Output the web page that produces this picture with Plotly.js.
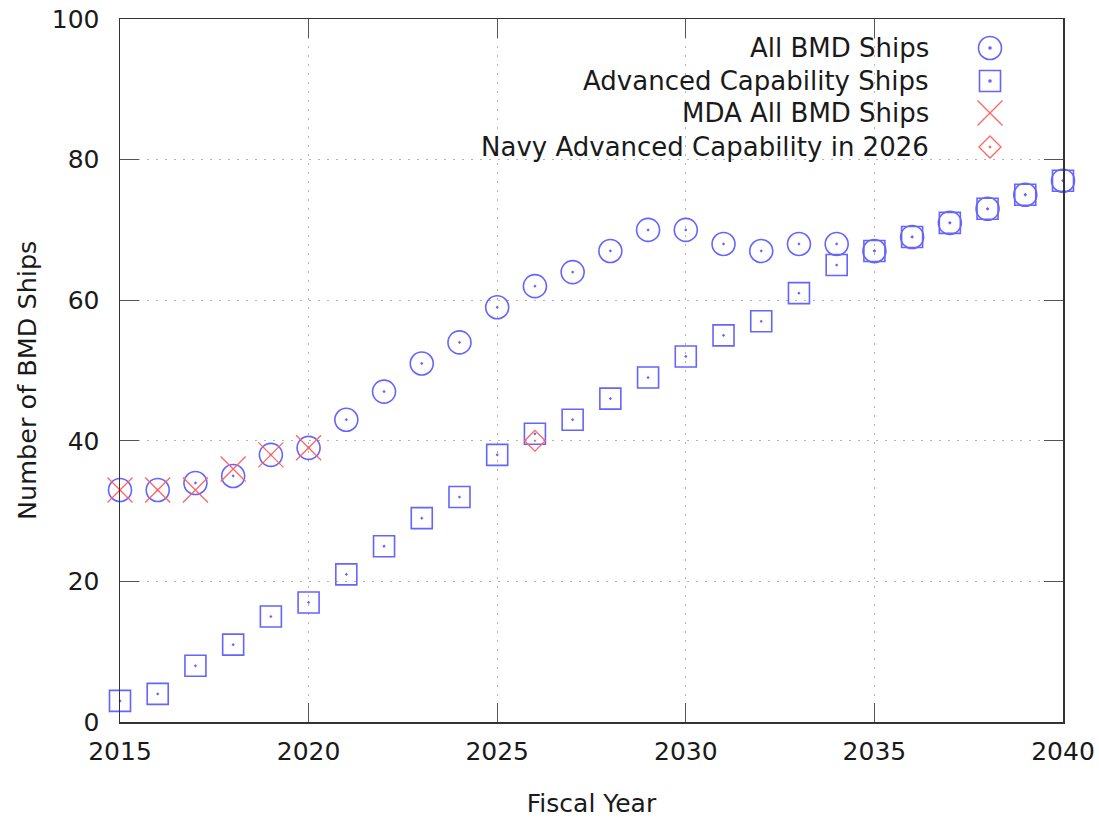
<!DOCTYPE html>
<html>
<head>
<meta charset="utf-8">
<script src="https://cdn.plot.ly/plotly-3.0.1.min.js"></script>
<style>html,body{margin:0;padding:0;background:#fff;}#chart{width:1099px;height:818px;}</style>
</head>
<body>
<div id="chart"></div>
<script>
// ---- data ----
var years = [2015,2016,2017,2018,2019,2020,2021,2022,2023,2024,2025,2026,2027,2028,2029,2030,2031,2032,2033,2034,2035,2036,2037,2038,2039,2040];
var allBMD = [33,33,34,35,38,39,43,47,51,54,59,62,64,67,70,70,68,67,68,68,67,69,71,73,75,77];
var advanced = [3,4,8,11,15,17,21,25,29,32,38,41,43,46,49,52,55,57,61,65,67,69,71,73,75,77];
var mdaYears = [2015,2016,2017,2018,2019,2020];
var mdaAll = [33,33,33,36,38,39];
var navyYears = [2026];
var navyAdv = [40];
var seriesNames = ["All BMD Ships","Advanced Capability Ships","MDA All BMD Ships","Navy Advanced Capability in 2026"];
var xTicks = [2015,2020,2025,2030,2035,2040];
var yTicks = [0,20,40,60,80,100];

var BLUE = '#6464ff', RED = '#ff6464';
var FONT = 'DejaVu Sans';

var traces = [
  {x: years, y: allBMD, name: seriesNames[0], mode: 'markers', cliponaxis: false,
   marker: {symbol: 'circle-open-dot', size: 23, color: BLUE, line: {color: BLUE, width: 1.6}}},
  {x: years, y: advanced, name: seriesNames[1], mode: 'markers', cliponaxis: false,
   marker: {symbol: 'square-open-dot', size: 21, color: BLUE, line: {color: BLUE, width: 1.6}}},
  {x: mdaYears, y: mdaAll, name: seriesNames[2], mode: 'markers', cliponaxis: false,
   marker: {symbol: 'x-thin-open', size: 25, color: RED, line: {color: RED, width: 1.3}}},
  {x: navyYears, y: navyAdv, name: seriesNames[3], mode: 'markers', cliponaxis: false,
   marker: {symbol: 'diamond-open-dot', size: 16, color: RED, line: {color: RED, width: 1.3}}}
];

// legend (gnuplot style: text right-aligned, key on the right)
var L = 120, T = 19, W = 943, H = 703;
function px(x){ return (x - L) / W; }
function py(y){ return (T + H - y) / H; }
var rowY = [48, 81, 113, 147];
var keyX = 990, textX = 931;
var annotations = seriesNames.map(function(n, i){
  return {text: n, xref: 'paper', yref: 'paper', x: px(textX), y: py(rowY[i]),
          xanchor: 'right', yanchor: 'middle', showarrow: false,
          font: {family: FONT, size: 26, color: '#1a1a1a'}};
});
annotations.push({text: 'Number of BMD Ships', xref: 'paper', yref: 'paper', x: px(27), y: py(381),
  xanchor: 'center', yanchor: 'middle', textangle: -90, showarrow: false,
  font: {family: FONT, size: 25.5, color: '#1a1a1a'}});
function pshape(type, cx, cy, x0, y0, x1, y1, color, extra){
  var s = {type: type, xref: 'paper', yref: 'paper', xsizemode: 'pixel', ysizemode: 'pixel',
           xanchor: px(cx), yanchor: py(cy), x0: x0, x1: x1, y0: y0, y1: y1,
           line: {color: color, width: 1.6}, layer: 'above'};
  for (var k in extra) s[k] = extra[k];
  return s;
}
var shapes = [
  {type: 'rect', xref: 'paper', yref: 'paper', x0: px(385), x1: px(1045), y0: py(166), y1: py(37),
   fillcolor: '#ffffff', line: {width: 0}, layer: 'between'},
  pshape('circle', keyX, rowY[0], -11.5, -11.5, 11.5, 11.5, BLUE),
  pshape('circle', keyX, rowY[0], -1, -1, 1, 1, BLUE, {fillcolor: BLUE}),
  pshape('rect', keyX, rowY[1], -10.5, -10.5, 10.5, 10.5, BLUE),
  pshape('circle', keyX, rowY[1], -1, -1, 1, 1, BLUE, {fillcolor: BLUE}),
  pshape('line', keyX, rowY[2], -12.5, -12.5, 12.5, 12.5, RED, {line: {color: RED, width: 1.3}}),
  pshape('line', keyX, rowY[2], -12.5, 12.5, 12.5, -12.5, RED, {line: {color: RED, width: 1.3}}),
  pshape('path', keyX, rowY[3], 0, 0, 0, 0, RED, {path: 'M0,11 L11,0 L0,-11 L-11,0 Z', line: {color: RED, width: 1.3}}),
  pshape('circle', keyX, rowY[3], -1, -1, 1, 1, RED, {fillcolor: RED, line: {color: RED, width: 1}})
];

var axisCommon = {
  showline: true, linecolor: '#333333', linewidth: 1.5, mirror: 'ticks',
  ticks: 'inside', ticklen: 19, tickwidth: 1.3, tickcolor: '#555555',
  showgrid: true, gridcolor: '#b4b4b4', griddash: '2px,7px', gridwidth: 1.3,
  zeroline: false, tickfont: {family: FONT, size: 25, color: '#1a1a1a'}
};

var layout = {
  width: 1099, height: 818,
  margin: {l: L, r: 1099 - L - W, t: T, b: 818 - T - H},
  paper_bgcolor: '#ffffff', plot_bgcolor: '#ffffff',
  showlegend: false,
  xaxis: Object.assign({}, axisCommon, {
    range: [2015, 2040], tickvals: xTicks, ticktext: xTicks.map(String), ticklabelstandoff: 6,
    title: {text: 'Fiscal Year', font: {family: FONT, size: 25, color: '#1a1a1a'}, standoff: 30}
  }),
  yaxis: Object.assign({}, axisCommon, {
    range: [0, 100], tickvals: yTicks, ticktext: yTicks.map(String), ticklabelstandoff: 14
  }),
  annotations: annotations,
  shapes: shapes
};

Plotly.newPlot('chart', traces, layout, {displayModeBar: false, staticPlot: true});
</script>
</body>
</html>
